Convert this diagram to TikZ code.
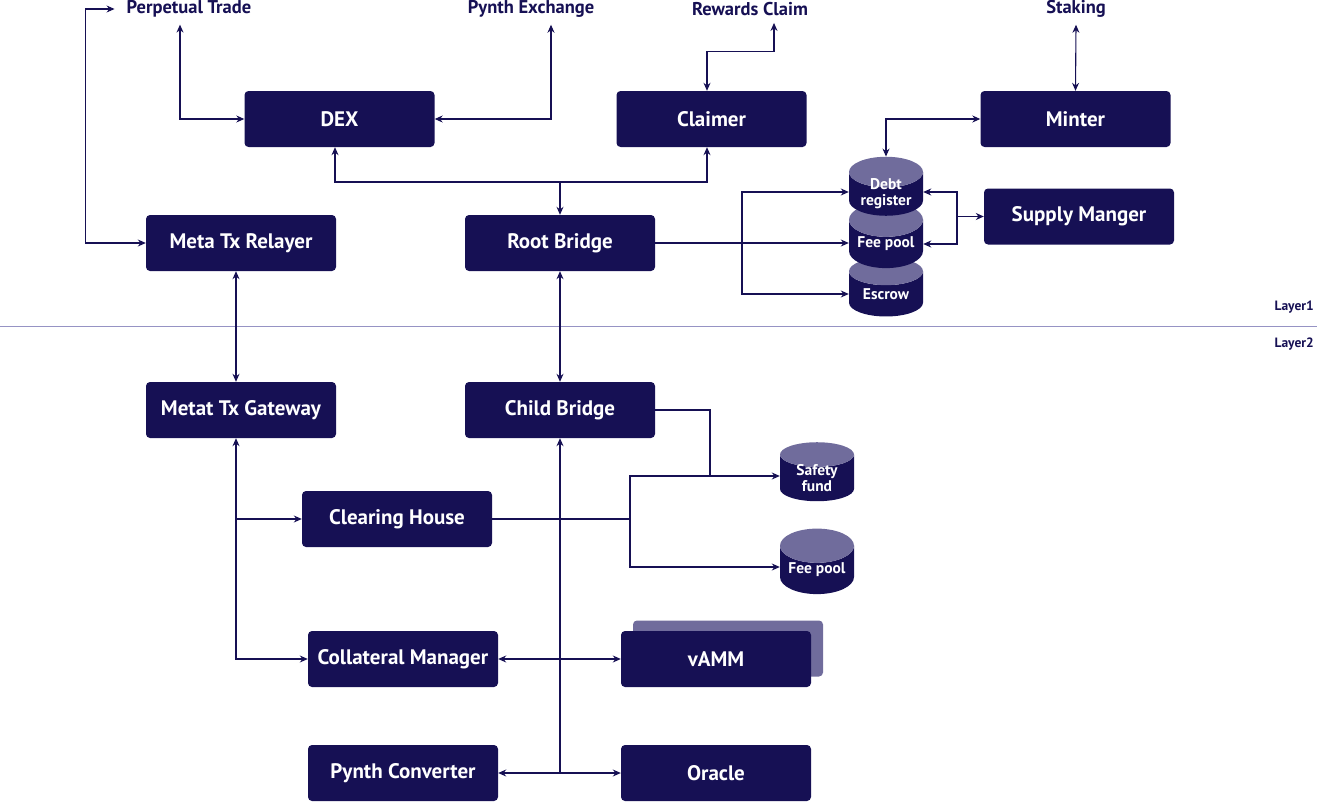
\documentclass[tikz,border=0pt]{standalone}
\usepackage{fontspec}
\setmainfont{PT Sans}
\usetikzlibrary{arrows.meta,shapes.geometric}
\definecolor{navy}{RGB}{22,16,84}
\definecolor{lilac}{RGB}{112,108,156}
\definecolor{layerrule}{RGB}{150,147,196}
\begin{document}
\begin{tikzpicture}[x=1pt,y=-1pt,
    box/.style={fill=navy,rounded corners=4pt,minimum width=190pt,minimum height=56pt,
      text=white,font=\bfseries\fontsize{21}{23}\selectfont},
    ghost/.style={fill=lilac,rounded corners=4pt,minimum width=190pt,minimum height=56pt},
    store/.style={cylinder,shape border rotate=90,shape aspect=0.6,cylinder uses custom fill,
      cylinder body fill=navy,cylinder end fill=lilac,minimum width=74pt,minimum height=59pt,
      inner sep=0pt,text=white,align=center,font=\bfseries\fontsize{15.5}{16}\selectfont},
    tall/.style={inner ysep=-11pt},
    ext/.style={text=navy,inner sep=2pt,font=\bfseries\fontsize{18.5}{20}\selectfont},
    layertext/.style={text=navy,inner sep=0pt,font=\bfseries\fontsize{13.5}{15}\selectfont},
    wire/.style={draw=navy,line width=1.1pt},
    tip/.style={-{Stealth[length=8pt,width=7pt]}},
    tips/.style={{Stealth[length=8pt,width=7pt]}-{Stealth[length=8pt,width=7pt]}}]
  \useasboundingbox (0,0) rectangle (1317,808);
  \draw
    (189,9) node[ext] (ptrade) {Perpetual Trade}
    (531,9) node[ext] (pexch) {Pynth Exchange}
    (750,9) node[ext] (rclaim) {Rewards Claim}
    (1076,9) node[ext] (staking) {Staking}
    (339.5,119) node[box] (dex) {DEX}
    (711.5,119) node[box] (claimer) {Claimer}
    (1075.5,119) node[box] (minter) {Minter}
    (241,243) node[box] (relayer) {Meta Tx Relayer}
    (560,243) node[box] (root) {Root Bridge}
    (1079,216.5) node[box] (supply) {Supply Manger}
    (886,294) node[store] (escrow) {Escrow}
    (886,244) node[store] (feeone) {Fee pool}
    (886,194) node[store,tall] (debt) {Debt\\register}
    (241,410) node[box] (gateway) {Metat Tx Gateway}
    (560,410) node[box] (child) {Child Bridge}
    (397,519) node[box] (clearing) {Clearing House}
    (817,478) node[store,tall] (safety) {Safety\\fund}
    (817,570) node[store] (feetwo) {Fee pool}
    (403,659) node[box] (collateral) {Collateral Manager}
    (728,648.5) node[ghost] (vammback) {}
    (716,659) node[box] (vamm) {vAMM}
    (403,773) node[box] (pconv) {Pynth Converter}
    (716,773) node[box] (oracle) {Oracle};
  \draw[layerrule,line width=1pt] (0,326) -- (1317,326);
  \node[layertext,anchor=east] (layerone) at (1314,307) {Layer1};
  \node[layertext,anchor=east] (layertwo) at (1314,344) {Layer2};
  \coordinate (rj) at (560,182);
  \coordinate (sj) at (742,243);
  \coordinate (mj) at (957,216.5);
  \coordinate (gj) at (236,519);
  \coordinate (cj) at (630,519);
  \coordinate (cbj) at (710,476);
  \coordinate (bj) at (560,773);
  \begin{scope}[wire]
    \draw[tips] ([xshift=-10pt]ptrade.west) -- ++(-29,0) |- (relayer.west);
    \draw[tips] (dex.west) -| ([xshift=-9pt,yshift=-5pt]ptrade.south);
    \draw[tips] (dex.east) -| ([xshift=20pt,yshift=-5pt]pexch.south);
    \draw[tips] ([xshift=-4.5pt]claimer.north) -- ++(0,-39) -| ([xshift=24pt,yshift=-5pt]rclaim.south);
    \draw[tips] (minter.north) -- ([yshift=-5pt]staking.south);
    \draw[tips] (minter.west) -| (debt.north);
    \draw[tip] (rj) -- (root.north);
    \draw[tip] (rj) -| ([xshift=-4.5pt]dex.south);
    \draw[tip] (rj) -| ([xshift=-4.5pt]claimer.south);
    \draw[tip] (root.east) -- (root.east -| feeone.west);
    \draw[tip] (sj) |- ([yshift=2pt]debt.west);
    \draw[tip] (sj) |- (escrow.west);
    \draw[tip] (mj) -- (supply.west);
    \draw[tip] (mj) |- ([yshift=2pt]debt.east);
    \draw[tip] (mj) |- (feeone.east);
    \draw[tips] ([xshift=-5pt]relayer.south) -- ([xshift=-5pt]gateway.north);
    \draw[tips] (root.south) -- (child.north);
    \draw[tips] ([xshift=-5pt]gateway.south) |- (collateral.west);
    \draw[tip] (gj) -- (clearing.west);
    \draw (clearing.east) -- (cj);
    \draw[tip] (cj) |- ([yshift=2pt]safety.west);
    \draw[tip] (cj) |- ([yshift=3pt]feetwo.west);
    \draw (child.east) -| (cbj);
    \draw[tip] (bj) -- (child.south);
    \draw[tips] (collateral.east) -- (vamm.west);
    \draw[tips] (pconv.east) -- (oracle.west);
  \end{scope}
\end{tikzpicture}
\end{document}
